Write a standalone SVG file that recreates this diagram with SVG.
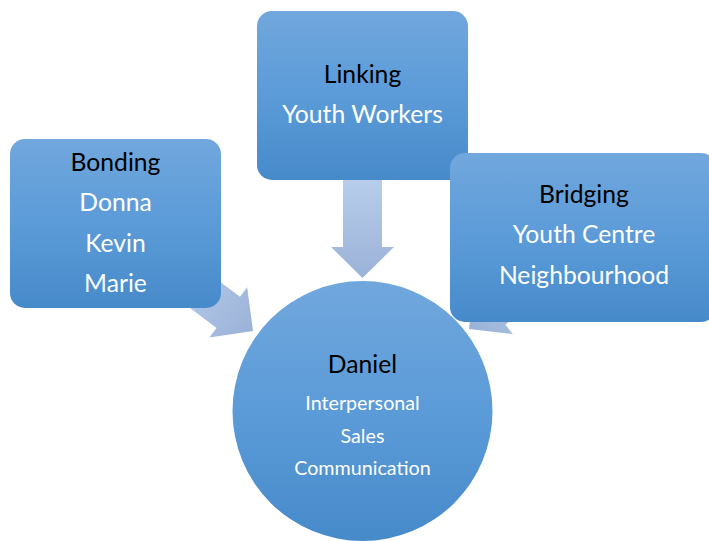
<svg xmlns="http://www.w3.org/2000/svg" width="709" height="541" viewBox="0 0 709 541">
  <defs>
    <linearGradient id="nodeFill" x1="0" y1="0" x2="0" y2="1">
      <stop offset="0" stop-color="#71a7dd"/>
      <stop offset="0.5" stop-color="#5b9bd8"/>
      <stop offset="1" stop-color="#478aca"/>
    </linearGradient>
    <linearGradient id="arrowFill" x1="0" y1="0" x2="1" y2="0">
      <stop offset="0" stop-color="#b7cdeb"/>
      <stop offset="1" stop-color="#9bb2d8"/>
    </linearGradient>
    <path id="arrow" d="M0,0 L-31,-31.5 L-31,-19.5 L-98,-19.5 L-98,19.5 L-31,19.5 L-31,31.5 Z"/>
  </defs>
  <style>
    .box { fill: url(#nodeFill); }
    .arr { fill: url(#arrowFill); }
    text { font-family: Lato, "Open Sans", "Liberation Sans", sans-serif; text-anchor: middle; }
    .big { font-size: 24.7px; }
    .small { font-size: 19.7px; }
    .head { fill: #000000; }
    .item { fill: #ffffff; }
  </style>
  <rect width="709" height="541" fill="#ffffff"/>
  <g id="connectors">
    <use href="#arrow" class="arr" transform="translate(362.5,278) rotate(90)"/>
    <use href="#arrow" class="arr" transform="translate(253,331) rotate(37)"/>
    <use href="#arrow" class="arr" transform="translate(469,329) rotate(141.3)"/>
  </g>
  <g id="bonding">
    <rect class="box" x="10" y="139" width="211" height="169" rx="15"/>
    <text class="big head" x="115.5" y="171">Bonding</text>
    <text class="big item" x="115.5" y="211">Donna</text>
    <text class="big item" x="115.5" y="252">Kevin</text>
    <text class="big item" x="115.5" y="292">Marie</text>
  </g>
  <g id="linking">
    <rect class="box" x="257" y="11" width="211" height="169" rx="15"/>
    <text class="big head" x="362.5" y="83">Linking</text>
    <text class="big item" x="362.5" y="123">Youth Workers</text>
  </g>
  <g id="bridging">
    <rect class="box" x="450" y="153" width="266" height="169" rx="15"/>
    <text class="big head" x="584" y="203">Bridging</text>
    <text class="big item" x="584" y="243">Youth Centre</text>
    <text class="big item" x="584" y="284">Neighbourhood</text>
  </g>
  <g id="daniel">
    <circle class="box" cx="362.5" cy="411" r="130"/>
    <text class="big head" x="362.5" y="373">Daniel</text>
    <text class="small item" x="362.5" y="410">Interpersonal</text>
    <text class="small item" x="362.5" y="443">Sales</text>
    <text class="small item" x="362.5" y="475">Communication</text>
  </g>
</svg>
